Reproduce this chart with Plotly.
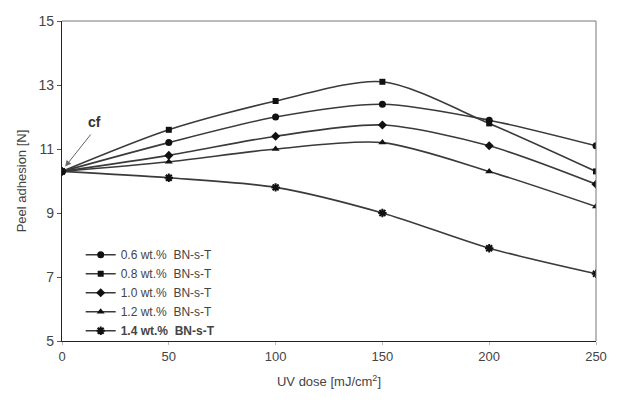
import plotly.graph_objects as go

# UV dose [mJ/cm2] and peel adhesion [N] for each BN-s-T loading
uv_dose = [0, 50, 100, 150, 200, 250]
series_names = ["0.6 wt.%\u00a0\u00a0BN-s-T", "0.8 wt.%\u00a0\u00a0BN-s-T",
                "1.0 wt.%\u00a0\u00a0BN-s-T", "1.2 wt.%\u00a0\u00a0BN-s-T",
                "<b>1.4 wt.%\u00a0\u00a0BN-s-T</b>"]
adh_06 = [10.3, 11.2, 12.0, 12.4, 11.9, 11.1]
adh_08 = [10.3, 11.6, 12.5, 13.1, 11.8, 10.3]
adh_10 = [10.3, 10.8, 11.4, 11.75, 11.1, 9.9]
adh_12 = [10.3, 10.6, 11.0, 11.2, 10.3, 9.2]
adh_14 = [10.3, 10.1, 9.8, 9.0, 7.9, 7.1]
y_ticks = [5, 7, 9, 11, 13, 15]
x_ticks = [0, 50, 100, 150, 200, 250]

values = [adh_06, adh_08, adh_10, adh_12, adh_14]
symbols = ["circle", "square", "diamond", "triangle-up", "asterisk-open"]
sizes = [7, 6, 7, 7, 7]

fig = go.Figure()
for name, vals, sym, sz in zip(series_names, values, symbols, sizes):
    marker = dict(symbol=sym, size=sz, color="#111111",
                  line=dict(color="#111111", width=2 if "asterisk" in sym else 0))
    fig.add_trace(go.Scatter(
        x=uv_dose, y=vals, name=name, mode="lines+markers",
        line=dict(color="#3a3a3a", width=1.6, shape="spline", smoothing=0.8),
        marker=marker,
    ))

# "cf" label with an arrow pointing at the common starting value
fig.add_annotation(
    x=1.5, y=10.45, ax=14, ay=11.5, xref="x", yref="y", axref="x", ayref="y",
    text="", showarrow=True, arrowhead=2, arrowsize=1.2, arrowwidth=1,
    arrowcolor="#666666",
)
fig.add_annotation(
    x=15, y=11.85, xref="x", yref="y", text="<b>cf</b>", showarrow=False,
    font=dict(size=14, color="#333333"),
)

# lighter frame on the top and right sides
fig.add_shape(type="line", xref="paper", yref="paper", x0=0, x1=1, y0=1, y1=1,
              line=dict(color="#777777", width=1))
fig.add_shape(type="line", xref="paper", yref="paper", x0=1, x1=1, y0=0, y1=1,
              line=dict(color="#777777", width=1))

fig.update_layout(
    width=619, height=400,
    margin=dict(l=62, r=16, t=21, b=59),
    paper_bgcolor="white", plot_bgcolor="white",
    font=dict(family="Liberation Sans, Arial, sans-serif", color="#444444"),
    showlegend=True,
    legend=dict(x=0.035, y=0.315, xanchor="left", yanchor="top",
                bgcolor="rgba(0,0,0,0)", font=dict(size=12, color="#444444"),
                tracegroupgap=0, itemwidth=30),
)
fig.update_xaxes(
    range=[0, 250], tickvals=x_ticks, ticks="outside", ticklen=3,
    tickcolor="#bbbbbb", showgrid=False, zeroline=False,
    showline=True, linecolor="#222222", linewidth=1.4,
    tickfont=dict(size=13, color="#444444"),
    title=dict(text="UV dose [mJ/cm<sup>2</sup>]", font=dict(size=13, color="#444444"),
               standoff=14),
)
fig.update_yaxes(
    range=[5, 15], tickvals=y_ticks, ticks="outside", ticklen=4,
    tickcolor="#555555", showgrid=False, zeroline=False,
    showline=True, linecolor="#222222", linewidth=1.4,
    tickfont=dict(size=14, color="#444444"),
    title=dict(text="Peel adhesion [N]", font=dict(size=13, color="#444444"),
               standoff=8),
)

fig.write_html("out.html")
